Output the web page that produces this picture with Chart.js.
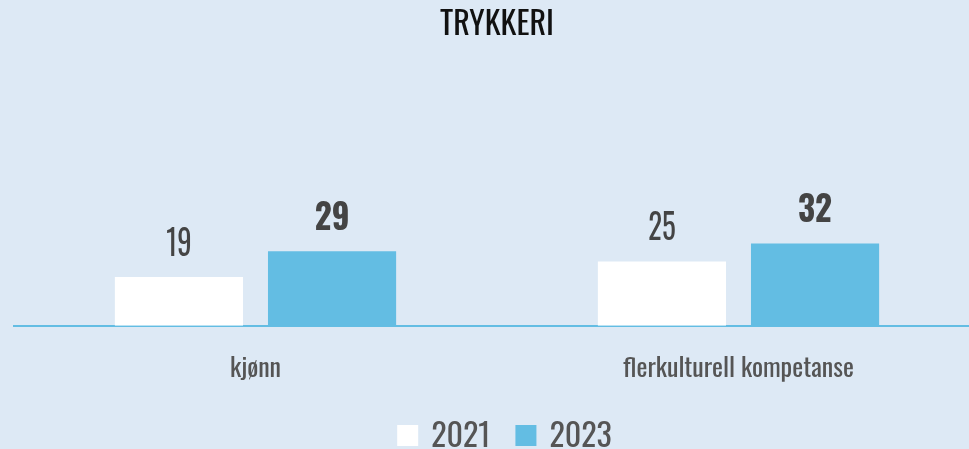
<!DOCTYPE html>
<html>
<head>
<meta charset="utf-8">
<script src="https://cdn.jsdelivr.net/npm/chart.js@4"></script>
<style>
  html, body { margin: 0; padding: 0; overflow: hidden; background: #dde9f5; }
  #wrap { position: absolute; left: 0; top: 0; width: 1000px; height: 449px; }
</style>
</head>
<body>
<div id="wrap"><canvas id="c"></canvas></div>
<script>
const categories = ["kjønn", "flerkulturell kompetanse"];
const seriesNames = ["2021", "2023"];
const values2021 = [19, 25];
const values2023 = [29, 32];
const chartTitle = "TRYKKERI";

const FONT = "'Oswald', 'Roboto Condensed', 'Liberation Sans Narrow', 'DejaVu Sans Condensed', sans-serif";
const BLUE = "#63bde3";

const valueLabels = {
  id: "valueLabels",
  afterDatasetsDraw(chart) {
    const ctx = chart.ctx;
    chart.data.datasets.forEach((ds, di) => {
      const meta = chart.getDatasetMeta(di);
      const bold = di === 1;
      meta.data.forEach((bar, i) => {
        const txt = String(ds.data[i]);
        ctx.save();
        ctx.translate(bar.x, bar.y - 21);
        ctx.scale(bold ? 0.92 : 0.8, 1);
        ctx.font = (bold ? "bold " : "") + "36px " + FONT;
        ctx.fillStyle = "#444444";
        ctx.textAlign = "center";
        ctx.textBaseline = "alphabetic";
        ctx.fillText(txt, 0, 0);
        ctx.restore();
      });
    });
  }
};

// Legend drawn from the dataset labels and colours
const bottomLegend = {
  id: "bottomLegend",
  afterDraw(chart) {
    const ctx = chart.ctx;
    const box = 21, boxGap = 13, itemGap = 25;
    const font = "32px " + FONT;
    ctx.save();
    ctx.font = font;
    const items = chart.data.datasets.map(ds => ({
      text: ds.label, color: ds.backgroundColor, w: ctx.measureText(ds.label).width
    }));
    const total = items.reduce((s, it) => s + box + boxGap + it.w, 0) + itemGap * (items.length - 1);
    let x = chart.width / 2 + 4.5 - total / 2;
    const boxTop = chart.height - 24;
    items.forEach(it => {
      ctx.fillStyle = it.color;
      ctx.fillRect(x, boxTop, box, box);
      x += box + boxGap;
      ctx.fillStyle = "#555555";
      ctx.textAlign = "left";
      ctx.textBaseline = "alphabetic";
      ctx.fillText(it.text, x, boxTop + 21.5);
      x += it.w + itemGap;
    });
    ctx.restore();
  }
};

new Chart(document.getElementById("c"), {
  type: "bar",
  data: {
    labels: categories,
    datasets: [
      { label: seriesNames[0], data: values2021, backgroundColor: "#ffffff",
        borderWidth: 0,
        categoryPercentage: 0.634, barPercentage: 0.837 },
      { label: seriesNames[1], data: values2023, backgroundColor: BLUE,
        categoryPercentage: 0.634, barPercentage: 0.837 }
    ]
  },
  options: {
    responsive: true,
    maintainAspectRatio: false,
    animation: false,
    layout: { padding: { left: 14, right: 20, top: 0, bottom: 36 } },
    plugins: {
      title: {
        display: true, text: chartTitle, color: "#111111",
        font: { family: FONT, size: 32, weight: "normal" },
        padding: { top: 6, bottom: 24 }
      },
      legend: { display: false },
      tooltip: { enabled: false }
    },
    scales: {
      x: {
        grid: { display: false, drawTicks: false },
        border: { display: true, color: BLUE, width: 2 },
        ticks: { color: "#555555", font: { family: FONT, size: 26 }, padding: 28 }
      },
      y: { display: false, min: 0, max: 100 }
    }
  },
  plugins: [valueLabels, bottomLegend]
});
</script>
</body>
</html>
